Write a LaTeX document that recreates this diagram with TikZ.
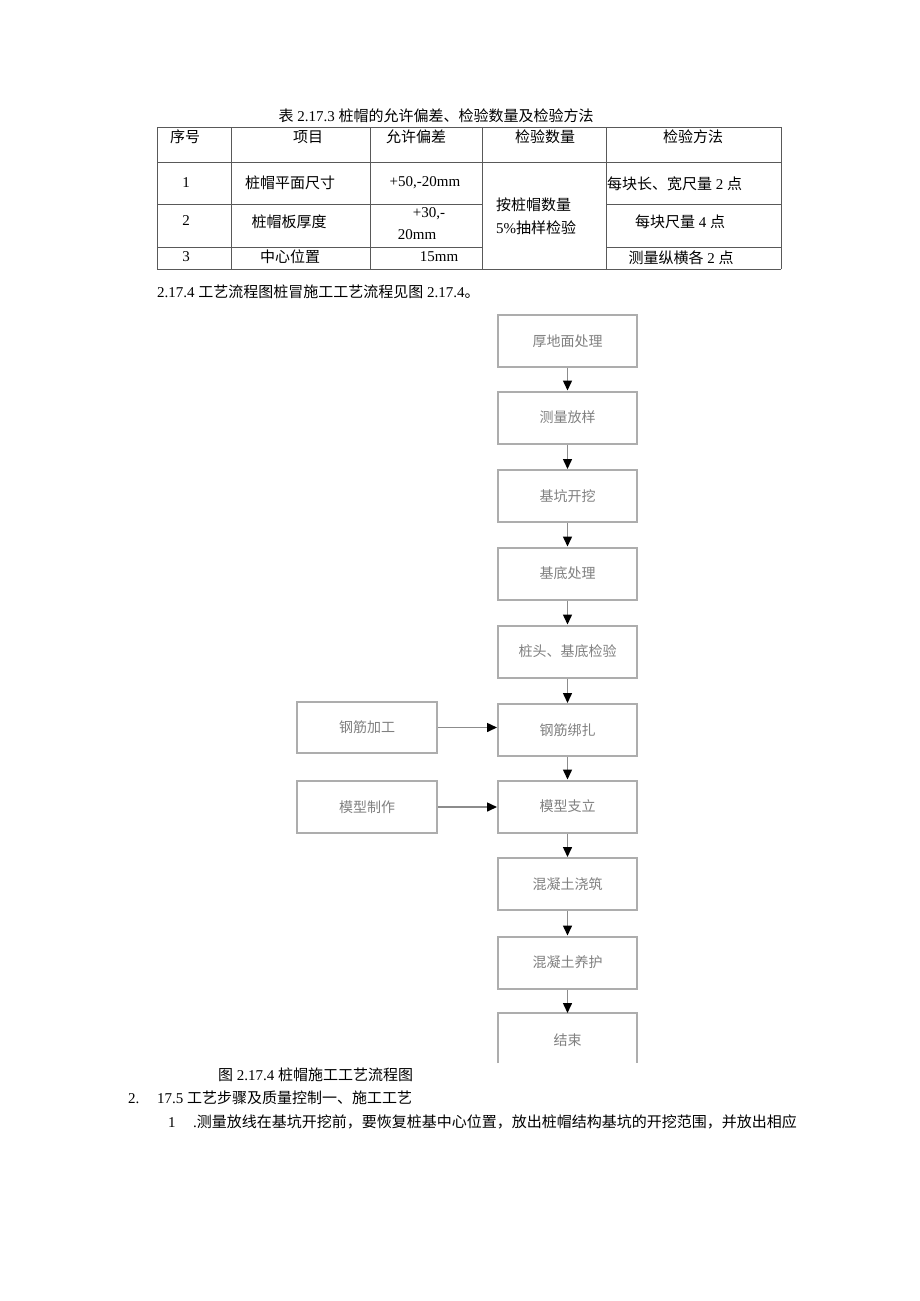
\documentclass[tikz,border=0pt]{standalone}
\usepackage{fontspec}
\setmainfont{Liberation Serif}
\newfontfamily\cjk{Noto Sans CJK SC}
\usetikzlibrary{arrows.meta}
\newcommand\zh[1]{{\cjk #1}}
\tikzset{
  txt/.style={inner sep=0pt, font=\fontsize{15}{18}\selectfont},
  tline/.style={draw=black!65, line width=0.9pt},
  flowbox/.style={draw=black!32, line width=2pt, minimum width=139pt, minimum height=52pt, inner sep=0pt,
     text=black!50, font=\fontsize{14}{16}\selectfont\cjk},
  flowarrow/.style={draw=black!45, line width=1.5pt, -{Triangle[length=10pt,width=9pt,color=black]}}
}
\begin{document}
\begin{tikzpicture}[x=1pt,y=-1pt]
\useasboundingbox (0,0) rectangle (920,1301);
\fill[white] (0,0) rectangle (920,1301);

% ---- table title
\node[txt] (ttitle) at (436,116) {\zh{表} 2.17.3 \zh{桩帽的允许偏差、检验数量及检验方法}};

% ---- table grid
\draw[tline] (157,127) -- (781,127);
\draw[tline] (157,162) -- (781,162);
\draw[tline] (157,204) -- (482,204) (606,204) -- (781,204);
\draw[tline] (157,247) -- (482,247) (606,247) -- (781,247);
\draw[tline] (157,269) -- (781,269);
\foreach \x in {157,231,370,482,606,781} \draw[tline] (\x,127) -- (\x,269);

% header
\node[txt] (h1) at (185,137) {\zh{序号}};
\node[txt] (h2) at (308,137) {\zh{项目}};
\node[txt] (h3) at (416,137) {\zh{允许偏差}};
\node[txt] (h4) at (545,137) {\zh{检验数量}};
\node[txt] (h5) at (693,137) {\zh{检验方法}};
% row 1
\node[txt] (r1a) at (186,183) {1};
\node[txt] (r1b) at (290,183) {\zh{桩帽平面尺寸}};
\node[txt] (r1c) at (425,183) {+50,-20mm};
\node[txt,anchor=west] (r1e) at (607,184) {\zh{每块长、宽尺量} 2 \zh{点}};
% row 2
\node[txt] (r2a) at (186,221) {2};
\node[txt] (r2b) at (289,222) {\zh{桩帽板厚度}};
\node[txt] (r2c) at (429,214) {+30,-};
\node[txt] (r2c2) at (417,235) {20mm};
\node[txt] (r2e) at (680,222) {\zh{每块尺量} 4 \zh{点}};
% row 3
\node[txt] (r3a) at (186,257) {3};
\node[txt] (r3b) at (290,257) {\zh{中心位置}};
\node[txt] (r3c) at (439,257) {15mm};
\node[txt] (r3e) at (681,258) {\zh{测量纵横各} 2 \zh{点}};
% merged column
\node[txt,anchor=west] (m1) at (496,205) {\zh{按桩帽数量}};
\node[txt,anchor=west] (m2) at (496,228) {5\%\zh{抽样检验}};

% ---- paragraph line
\node[txt,anchor=west] (para1) at (157,292) {2.17.4 \zh{工艺流程图桩冒施工工艺流程见图} 2.17.4\zh{。}};

% ---- flowchart
\node[flowbox] (b1) at (567.5,341) {厚地面处理};
\node[flowbox] (b2) at (567.5,417.5) {测量放样};
\node[flowbox] (b3) at (567.5,496) {基坑开挖};
\node[flowbox] (b4) at (567.5,573.5) {基底处理};
\node[flowbox] (b5) at (567.5,651.5) {桩头、基底检验};
\node[flowbox] (b6) at (567.5,730) {钢筋绑扎};
\node[flowbox] (b7) at (567.5,806.5) {模型支立};
\node[flowbox] (b8) at (567.5,884) {混凝土浇筑};
\node[flowbox] (b9) at (567.5,962.5) {混凝土养护};
% last box, cut off at the bottom
\draw[draw=black!32, line width=2pt] (498,1063) -- (498,1013) -- (637,1013) -- (637,1063);
\coordinate (b10top) at (567.5,1013);
\node[inner sep=0pt, text=black!50, font=\fontsize{14}{16}\selectfont\cjk] (b10) at (567.5,1040) {结束};

\node[flowbox, minimum width=140pt, minimum height=51pt] (l1) at (367,727.5) {钢筋加工};
\node[flowbox, minimum width=140pt] (l2) at (367,807) {模型制作};

\draw[flowarrow] (b1) -- (b2);
\draw[flowarrow] (b2) -- (b3);
\draw[flowarrow] (b3) -- (b4);
\draw[flowarrow] (b4) -- (b5);
\draw[flowarrow] (b5) -- (b6);
\draw[flowarrow] (b6) -- (b7);
\draw[flowarrow] (b7) -- (b8);
\draw[flowarrow] (b8) -- (b9);
\draw[flowarrow] (b9) -- (b10top);
\draw[flowarrow] (l1.east) -- (l1.east -| b6.west);
\draw[flowarrow] (l2.east) -- (l2.east -| b7.west);

% ---- caption and following text
\node[txt,anchor=west] (cap) at (218,1075) {\zh{图} 2.17.4 \zh{桩帽施工工艺流程图}};
\node[txt,anchor=west] (para2) at (128,1098) {\makebox[29pt][l]{2.}17.5 \zh{工艺步骤及质量控制一、施工工艺}};
\node[txt,anchor=west] (para3) at (168,1122) {\makebox[25pt][l]{1}.\zh{测量放线在基坑开挖前，要恢复桩基中心位置，放出桩帽结构基坑的开挖范围，并放出相应}};
\end{tikzpicture}
\end{document}
